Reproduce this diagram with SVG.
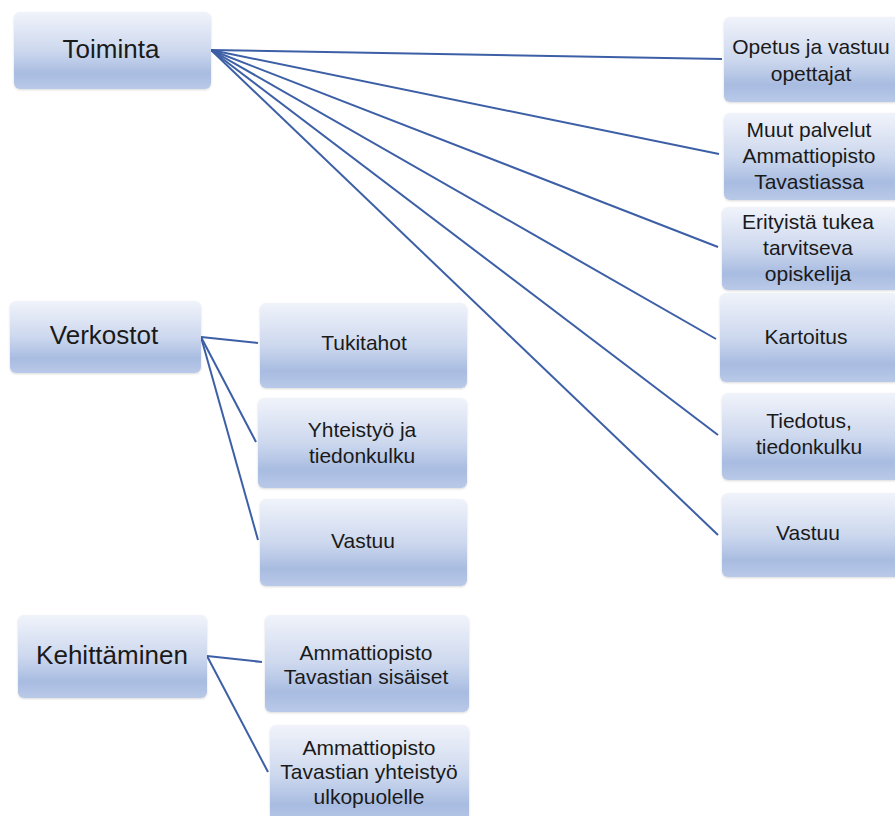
<svg xmlns="http://www.w3.org/2000/svg" width="895" height="816" viewBox="0 0 895 816">
<defs>
<linearGradient id="g" x1="0" y1="0" x2="0" y2="1">
<stop offset="0" stop-color="#f0f3fa"/>
<stop offset="0.5" stop-color="#cdd8ee"/>
<stop offset="0.8" stop-color="#a8bce1"/>
<stop offset="1" stop-color="#b9c9e8"/>
</linearGradient>
<filter id="sh" x="-5%" y="-5%" width="110%" height="115%">
<feGaussianBlur in="SourceAlpha" stdDeviation="1.2"/>
<feOffset dx="0" dy="1" result="b"/>
<feComponentTransfer><feFuncA type="linear" slope="0.15"/></feComponentTransfer>
<feMerge><feMergeNode/><feMergeNode in="SourceGraphic"/></feMerge>
</filter>
</defs>
<style>
.box{fill:url(#g);filter:url(#sh)}
.t{font-family:"Liberation Sans",Arial,sans-serif;fill:#1a1a1a;text-anchor:middle}
.big{font-size:26px}
.sm{font-size:21px}
.c{stroke:#3c5fa6;stroke-width:2;fill:none}
</style>
<g id="connectors">
<path class="c" d="M211 50 L722 59"/>
<path class="c" d="M211 50 L719 154"/>
<path class="c" d="M211 50 L718 247"/>
<path class="c" d="M211 50 L716 339"/>
<path class="c" d="M211 50 L718 435"/>
<path class="c" d="M211 50 L718 535"/>
<path class="c" d="M201 337 L258 343"/>
<path class="c" d="M201 337 L256 442"/>
<path class="c" d="M201 337 L258 540"/>
<path class="c" d="M207 656 L262 662"/>
<path class="c" d="M207 656 L268 772"/>
</g>
<g id="toiminta"><rect class="box" x="14" y="12" width="197" height="77" rx="6"/><text class="t big" x="111" y="58">Toiminta</text></g>
<g id="opetus"><rect class="box" x="724" y="17" width="176" height="85" rx="6"/><text class="t sm" x="811" y="54">Opetus ja vastuu</text><text class="t sm" x="811" y="81">opettajat</text></g>
<g id="muut"><rect class="box" x="724" y="113" width="176" height="87" rx="6"/><text class="t sm" x="809" y="137">Muut palvelut</text><text class="t sm" x="809" y="163">Ammattiopisto</text><text class="t sm" x="809" y="189">Tavastiassa</text></g>
<g id="erityista"><rect class="box" x="722" y="207" width="178" height="83" rx="6"/><text class="t sm" x="808" y="229">Erityistä tukea</text><text class="t sm" x="808" y="255">tarvitseva</text><text class="t sm" x="808" y="281">opiskelija</text></g>
<g id="kartoitus"><rect class="box" x="720" y="293" width="180" height="89" rx="6"/><text class="t sm" x="806" y="344">Kartoitus</text></g>
<g id="tiedotus"><rect class="box" x="722" y="393" width="178" height="87" rx="6"/><text class="t sm" x="809" y="428">Tiedotus,</text><text class="t sm" x="809" y="454">tiedonkulku</text></g>
<g id="vastuu1"><rect class="box" x="722" y="493" width="178" height="84" rx="6"/><text class="t sm" x="808" y="540">Vastuu</text></g>
<g id="verkostot"><rect class="box" x="10" y="301" width="191" height="72" rx="6"/><text class="t big" x="104" y="344">Verkostot</text></g>
<g id="tukitahot"><rect class="box" x="260" y="303" width="207" height="85" rx="6"/><text class="t sm" x="364" y="350">Tukitahot</text></g>
<g id="yhteistyo"><rect class="box" x="258" y="398" width="209" height="90" rx="6"/><text class="t sm" x="362" y="437">Yhteistyö ja</text><text class="t sm" x="362" y="463">tiedonkulku</text></g>
<g id="vastuu2"><rect class="box" x="260" y="499" width="207" height="87" rx="6"/><text class="t sm" x="363" y="548">Vastuu</text></g>
<g id="kehittaminen"><rect class="box" x="18" y="615" width="189" height="83" rx="6"/><text class="t big" x="112" y="664">Kehittäminen</text></g>
<g id="sisaiset"><rect class="box" x="265" y="615" width="204" height="97" rx="6"/><text class="t sm" x="366" y="660">Ammattiopisto</text><text class="t sm" x="366" y="684">Tavastian sisäiset</text></g>
<g id="yhteistyo-ulko"><rect class="box" x="270" y="725" width="199" height="100" rx="6"/><text class="t sm" x="369" y="755">Ammattiopisto</text><text class="t sm" x="369" y="779">Tavastian yhteistyö</text><text class="t sm" x="369" y="804">ulkopuolelle</text></g>
</svg>
